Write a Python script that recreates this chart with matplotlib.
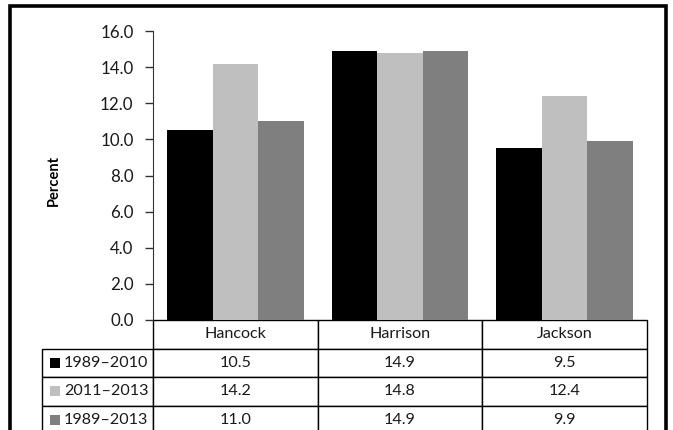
import numpy as np
import matplotlib.pyplot as plt
from matplotlib.patches import Rectangle

counties = ['Hancock', 'Harrison', 'Jackson']
periods = ['1989\u20132010', '2011\u20132013', '1989\u20132013']
v_1989_2010 = [10.5, 14.9, 9.5]
v_2011_2013 = [14.2, 14.8, 12.4]
v_1989_2013 = [11.0, 14.9, 9.9]
series = [v_1989_2010, v_2011_2013, v_1989_2013]
colors = ['#000000', '#bfbfbf', '#7f7f7f']
yticks = np.arange(0, 16.1, 2)

W, H = 673, 430
plt.rcParams.update({'font.family': ['Lato', 'DejaVu Sans'], 'font.size': 11.5})
fig = plt.figure(figsize=(W / 100, H / 100), dpi=100)

# axes placed in pixel terms
left, right, top, bottom = 153, 647, 31, 320
ax = fig.add_axes([left / W, 1 - bottom / H, (right - left) / W, (bottom - top) / H])

x = np.arange(len(counties))
bw = 0.276
for i, (vals, c) in enumerate(zip(series, colors)):
    ax.bar(x + (i - 1) * bw, vals, width=bw, color=c, linewidth=0)

ax.set_xlim(-0.5, len(counties) - 0.5)
ax.set_ylim(0, 16)
ax.set_yticks(yticks)
ax.set_yticklabels([f'{t:.1f}' for t in yticks], fontsize=12.2, color='#1a1a1a')
ax.set_xticks([])
ax.tick_params(axis='y', direction='out', length=6, width=1, color='#333333', pad=8)
for s in ['top', 'right', 'bottom']:
    ax.spines[s].set_visible(False)
ax.spines['left'].set_color('#333333')
ax.set_ylabel('Percent', fontweight='bold', fontsize=10.5)
ax_w, ax_h = right - left, bottom - top
ax.yaxis.set_label_coords((61 - left) / ax_w, (bottom - 181) / ax_h)

# data table under the plot
tab_left, row_h = 42, 28.5
n_rows = len(periods) + 1
x0 = (tab_left - left) / ax_w
tw = (right - tab_left) / ax_w
th = n_rows * row_h / ax_h
y0 = -th
label_w = left - tab_left
col_w = (right - left) / len(counties)
widths = [label_w / (right - tab_left)] + [col_w / (right - tab_left)] * len(counties)

cell_text = [[p] + [f'{v:.1f}' for v in vals] for p, vals in zip(periods, series)]
tbl = ax.table(cellText=cell_text, colLabels=[''] + counties, cellLoc='center',
               colWidths=widths, bbox=[x0, y0, tw, th])
tbl.auto_set_font_size(False)
tbl.set_fontsize(11.6)
for (r, c), cell in tbl.get_celld().items():
    cell.set_edgecolor('#000000')
    cell.set_linewidth(1)
    cell.get_text().set_color('#1a1a1a')
    if r == 0 and c == 0:
        cell.visible_edges = ''
    if r > 0 and c == 0:
        cell._loc = 'left'
        cell.PAD = 22 / label_w
        cell.get_text().set_ha('left')

# legend keys in the row labels
for i, c in enumerate(colors):
    yc = y0 + th * (1 - (i + 1.5) / n_rows)
    ax.scatter([(54.5 - left) / ax_w], [yc], marker='s', s=44, color=c,
               transform=ax.transAxes, clip_on=False, linewidths=0)

# outer frame, bottom edge runs off the image
fig.add_artist(Rectangle((10 / W, -0.1), 656 / W, 1.1 - 6.5 / H, fill=False,
                         edgecolor='black', linewidth=2.6, transform=fig.transFigure))

fig.savefig('out.png', dpi=100)
